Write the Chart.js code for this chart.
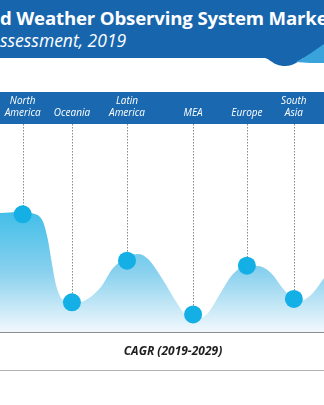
<!DOCTYPE html>
<html>
<head>
<meta charset="utf-8">
<script src="https://cdn.jsdelivr.net/npm/chart.js"></script>
<style>
  body { margin: 0; width: 324px; height: 405px; overflow: hidden; background: #fff; position: relative; font-family: "Open Sans", sans-serif; }
  #head { position: absolute; left: 0; top: 0; }
  .title { position: absolute; left: 0; top: 5px; color: #fff; font-weight: bold; font-size: 18.6px; letter-spacing: -0.15px; white-space: nowrap; }
  .sub { position: absolute; left: 0; top: 28px; color: #fff; font-style: italic; font-size: 17.5px; white-space: nowrap; }
  #wrap { position: absolute; left: 0; top: 92px; width: 324px; height: 242px; }
  .base { position: absolute; left: 0; top: 332px; width: 324px; height: 1px; background: #8c8c8c; }
  .cagr { position: absolute; left: 0; width: 346px; top: 342px; text-align: center; font-weight: bold; font-style: italic; font-size: 12px; color: #1e1e1e; }
  .foot { position: absolute; left: 0; top: 370px; width: 324px; height: 1px; background: #b4b4b4; }
</style>
</head>
<body>
<svg id="head" width="324" height="70">
  <rect x="0" y="0" width="324" height="58" fill="#1766ad"/>
  <path d="M260 57 C270 57, 272 66, 285 66 C295 66, 300 60, 308 54 L308 57 Z" fill="#1766ad"/>
  <path d="M296 62 C306 57, 314 51, 324 44 L324 63 C315 63, 305 63, 296 62 Z" fill="#3ba3dc"/>
</svg>
<div class="title">d Weather Observing System Marke</div>
<div class="sub">ssessment, 2019</div>
<div id="wrap"><canvas id="chart"></canvas></div>
<div class="base"></div>
<div class="cagr">CAGR (2019-2029)</div>
<div class="foot"></div>
<script>
// regions and where they sit along the axis (0-100)
const regions = [['North', 'America'], 'Oceania', ['Latin', 'America'], 'MEA', 'Europe', ['South', 'Asia']];
const regionPos = [7.0, 22.2, 39.2, 59.6, 76.2, 90.7];
const regionCagr = [5.68, 1.47, 3.46, 0.89, 3.22, 1.63];

// outline of the shaded wave
const wavePos = [0, 6.2, 10.8, 13.3, 14.8, 16.0, 17.3, 19.1, 22.2, 25.9, 30.9, 34.9, 39.2, 42.6, 45.7, 50.3, 54.6, 57.7, 60.2, 63.9, 67.9, 71.9, 76.2, 79.6, 83.3, 87.7, 91.4, 96.3, 100];
const waveVal = [5.74, 5.79, 5.69, 5.31, 4.45, 3.35, 2.30, 1.63, 1.44, 1.53, 2.15, 3.11, 3.64, 3.78, 3.54, 2.54, 1.44, 0.81, 0.67, 0.91, 1.87, 2.82, 3.21, 3.21, 2.92, 2.06, 1.48, 1.87, 2.63];

const bandPlugin = {
    id: 'band',
    beforeDraw(chart) {
        const ctx = chart.ctx;
        ctx.save();
        ctx.fillStyle = '#1a69b0';
        ctx.fillRect(0, 0, chart.width, chart.chartArea.top);
        ctx.restore();
    },
    beforeDatasetsDraw(chart) {
        // dotted drop lines from the band to each marker
        const ctx = chart.ctx;
        const pts = chart.getDatasetMeta(1).data;
        ctx.save();
        ctx.strokeStyle = '#8a8a8a';
        ctx.lineWidth = 1;
        ctx.setLineDash([1.5, 1.5]);
        pts.forEach(p => {
            const x = Math.round(p.x) + 0.5;
            ctx.beginPath();
            ctx.moveTo(x, chart.chartArea.top);
            ctx.lineTo(x, p.y);
            ctx.stroke();
        });
        ctx.restore();
    }
};

const areaFill = function(context) {
    const { ctx, chartArea } = context.chart;
    if (!chartArea) return '#8fd3ef';
    const g = ctx.createLinearGradient(0, chartArea.top + 88, 0, chartArea.bottom);
    g.addColorStop(0, '#42bee9');
    g.addColorStop(0.5, '#8ad1ee');
    g.addColorStop(1, '#f3f9fd');
    return g;
};

new Chart(document.getElementById('chart'), {
    type: 'line',
    data: {
        datasets: [{
            data: wavePos.map((x, i) => ({ x: x, y: waveVal[i] })),
            fill: 'origin',
            backgroundColor: areaFill,
            borderWidth: 0,
            pointRadius: 0,
            cubicInterpolationMode: 'monotone',
            order: 2
        }, {
            data: regionPos.map((x, i) => ({ x: x, y: regionCagr[i] })),
            showLine: false,
            pointRadius: 9,
            pointHoverRadius: 9,
            pointBackgroundColor: '#14b0e5',
            pointBorderWidth: 0,
            clip: false,
            order: 1
        }]
    },
    options: {
        responsive: true,
        maintainAspectRatio: false,
        animation: false,
        layout: { autoPadding: false, padding: { left: 0, right: 0, top: 0, bottom: 1 } },
        plugins: { legend: { display: false }, tooltip: { enabled: false } },
        scales: {
            x: {
                type: 'linear',
                position: 'top',
                min: 0,
                max: 100,
                grid: { display: false, drawTicks: false },
                border: { display: false },
                afterBuildTicks: scale => { scale.ticks = regionPos.map(v => ({ value: v })); },
                afterFit: scale => {
                    scale.height = 32;
                    scale.paddingLeft = 0;
                    scale.paddingRight = 0;
                },
                ticks: {
                    callback: (v, i) => regions[i],
                    color: '#ffffff',
                    padding: 5,
                    maxRotation: 0,
                    autoSkip: false,
                    font: { family: 'Open Sans', size: 10, style: 'italic' }
                }
            },
            y: {
                display: false,
                min: 0,
                max: 10
            }
        }
    },
    plugins: [bandPlugin]
});
</script>
</body>
</html>
